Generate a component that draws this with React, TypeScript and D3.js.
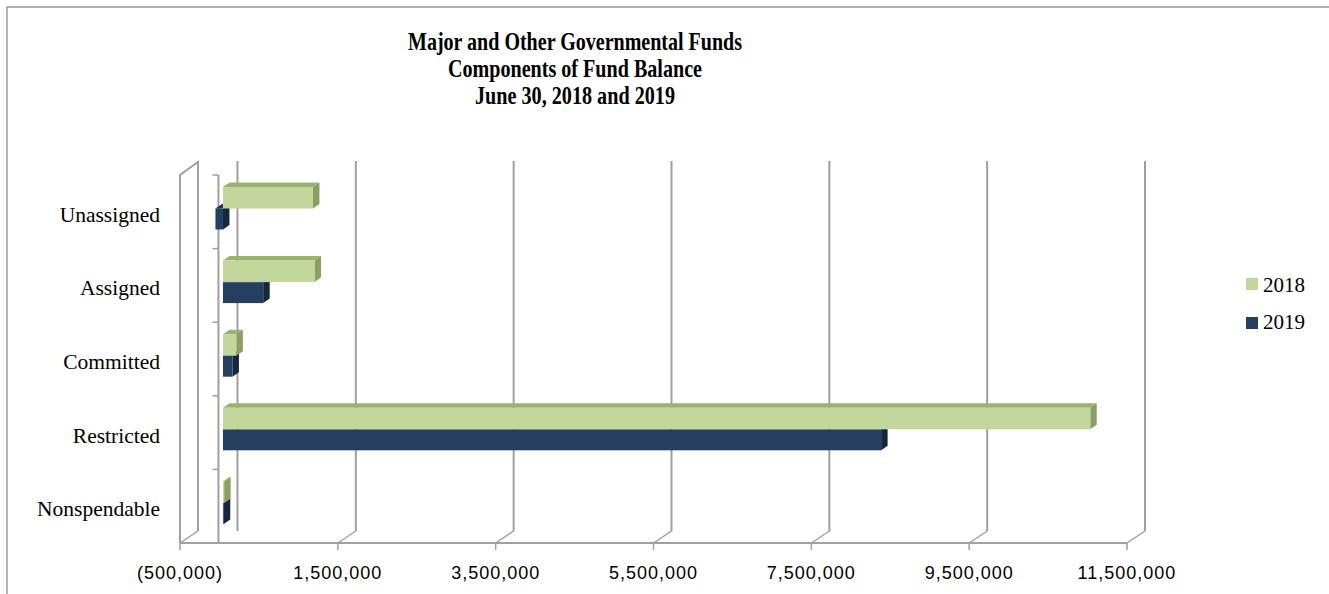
import React from "react";
import * as d3 from "d3";

const categories = ["Unassigned", "Assigned", "Committed", "Restricted", "Nonspendable"];
const series = ["2018", "2019"];
const values2018 = [1140000, 1160000, 170000, 10990000, 15000];
const values2019 = [-95000, 510000, 120000, 8340000, 10000];
const tickValues = [-500000, 1500000, 3500000, 5500000, 7500000, 9500000, 11500000];
const titleLines = [
  "Major and Other Governmental Funds",
  "Components of Fund Balance",
  "June 30, 2018 and 2019",
];

const W = 1329;
const H = 594;
const DX = 18; // wall depth
const DY = -12;
const BDX = 6.5; // bar depth
const BDY = -4.5;

const greenFront = "#C3D69B";
const greenTop = "#9CB26F";
const greenSide = "#8C9F63";
const navyFront = "#243F60";
const navyTop = "#1D344F";
const navySide = "#15273D";
const gridColor = "#A0A0A0";

function fmt(v: number) {
  const s = d3.format(",")(Math.abs(v));
  return v < 0 ? `(${s})` : s;
}

export default function App() {
  const x = d3.scaleLinear().domain([-500000, 11500000]).range([180, 1127]);
  const y = d3.scaleBand().domain(categories).range([175, 543]).padding(0);
  const floorY = 543;
  const topY = 161;
  const bw = y.bandwidth();
  const xb = (v: number) => x(v) + 3.5;

  const bar = (v: number, top: number, h: number, front: string, topC: string, side: string, key: string) => {
    const x0 = Math.min(xb(0), xb(v));
    const x1 = Math.max(xb(0), xb(v));
    const topFace = `M${x0},${top} L${x1},${top} L${x1 + BDX},${top + BDY} L${x0 + BDX},${top + BDY} Z`;
    const sideFace = `M${x1},${top} L${x1 + BDX},${top + BDY} L${x1 + BDX},${top + BDY + h} L${x1},${top + h} Z`;
    return (
      <g key={key}>
        <path d={topFace} fill={topC} />
        <path d={sideFace} fill={side} />
        <rect x={x0} y={top} width={x1 - x0} height={h} fill={front} />
      </g>
    );
  };

  const titleWidths = [334, 254, 200];
  const titleBase = [50, 77, 104];

  return (
    <svg width={W} height={H} style={{ position: "absolute", left: 0, top: 0, background: "#fff" }}>
      <rect x={7} y={7} width={1400} height={700} fill="#fff" stroke="#999" strokeWidth={1.5} />
      {titleLines.map((t, i) => (
        <text
          key={t}
          x={575}
          y={titleBase[i]}
          textAnchor="middle"
          fontFamily="'Liberation Serif', 'Times New Roman', serif"
          fontWeight="bold"
          fontSize={25}
          textLength={titleWidths[i]}
          lengthAdjust="spacingAndGlyphs"
          fill="#000"
        >
          {t}
        </text>
      ))}

      {/* back wall gridlines */}
      {tickValues.map((v) => (
        <line key={"g" + v} x1={x(v) + DX} x2={x(v) + DX} y1={topY} y2={floorY + DY} stroke={gridColor} strokeWidth={2} />
      ))}
      {/* back zero line */}
      <line x1={x(0) + DX} x2={x(0) + DX} y1={topY} y2={floorY + DY} stroke={gridColor} strokeWidth={2} />
      {/* floor diagonals */}
      {tickValues.map((v) => (
        <line key={"f" + v} x1={x(v)} x2={x(v) + DX} y1={floorY} y2={floorY + DY} stroke={gridColor} strokeWidth={1.5} />
      ))}
      {/* left wall */}
      <path
        d={`M${x(-500000)},${floorY} L${x(-500000)},175 L${x(-500000) + DX},${topY + 1} L${x(-500000) + DX},${floorY + DY}`}
        fill="none"
        stroke={gridColor}
        strokeWidth={2}
      />
      {/* floor front line */}
      <line x1={x(-500000)} x2={x(11500000)} y1={floorY} y2={floorY} stroke={gridColor} strokeWidth={2} />
      {/* value ticks */}
      {tickValues.map((v) => (
        <line key={"t" + v} x1={x(v)} x2={x(v)} y1={floorY} y2={floorY + 7} stroke={gridColor} strokeWidth={1.5} />
      ))}
      {/* category axis */}
      <line x1={x(0) - 1} x2={x(0) - 1} y1={175} y2={floorY} stroke={gridColor} strokeWidth={2} />
      {categories.map((c) => (
        <line key={"ct" + c} x1={x(0) - 7} x2={x(0) - 1} y1={y(c)!} y2={y(c)!} stroke={gridColor} strokeWidth={1.5} />
      ))}
      <line x1={x(0) - 7} x2={x(0) - 1} y1={floorY} y2={floorY} stroke={gridColor} strokeWidth={1.5} />

      {/* bars */}
      {categories.map((c, i) => {
        const t = y(c)!;
        return (
          <g key={"b" + c}>
            {bar(values2019[i], t + 33.5, 21, navyFront, navyTop, navySide, "n")}
            {bar(values2018[i], t + 12, 21.5, greenFront, greenTop, greenSide, "g")}
          </g>
        );
      })}

      {/* category labels */}
      {categories.map((c) => (
        <text
          key={"cl" + c}
          x={160}
          y={y(c)! + bw / 2 + 10}
          textAnchor="end"
          fontFamily="'Liberation Serif', 'Times New Roman', serif"
          fontSize={21.5}
          fill="#000"
        >
          {c}
        </text>
      ))}

      {/* value labels */}
      {tickValues.map((v) => (
        <text
          key={"vl" + v}
          x={x(v)}
          y={579}
          textAnchor="middle"
          fontFamily="'Liberation Sans', Arial, sans-serif"
          fontSize={18}
          letterSpacing={1}
          fill="#000"
        >
          {fmt(v)}
        </text>
      ))}

      {/* legend */}
      {series.map((s, i) => (
        <g key={"lg" + s}>
          <rect x={1246} y={278 + i * 39} width={12} height={12} fill={i === 0 ? greenFront : navyFront} />
          <text
            x={1263}
            y={292 + i * 37}
            fontFamily="'Liberation Serif', 'Times New Roman', serif"
            fontSize={21}
            fill="#000"
          >
            {s}
          </text>
        </g>
      ))}
    </svg>
  );
}
